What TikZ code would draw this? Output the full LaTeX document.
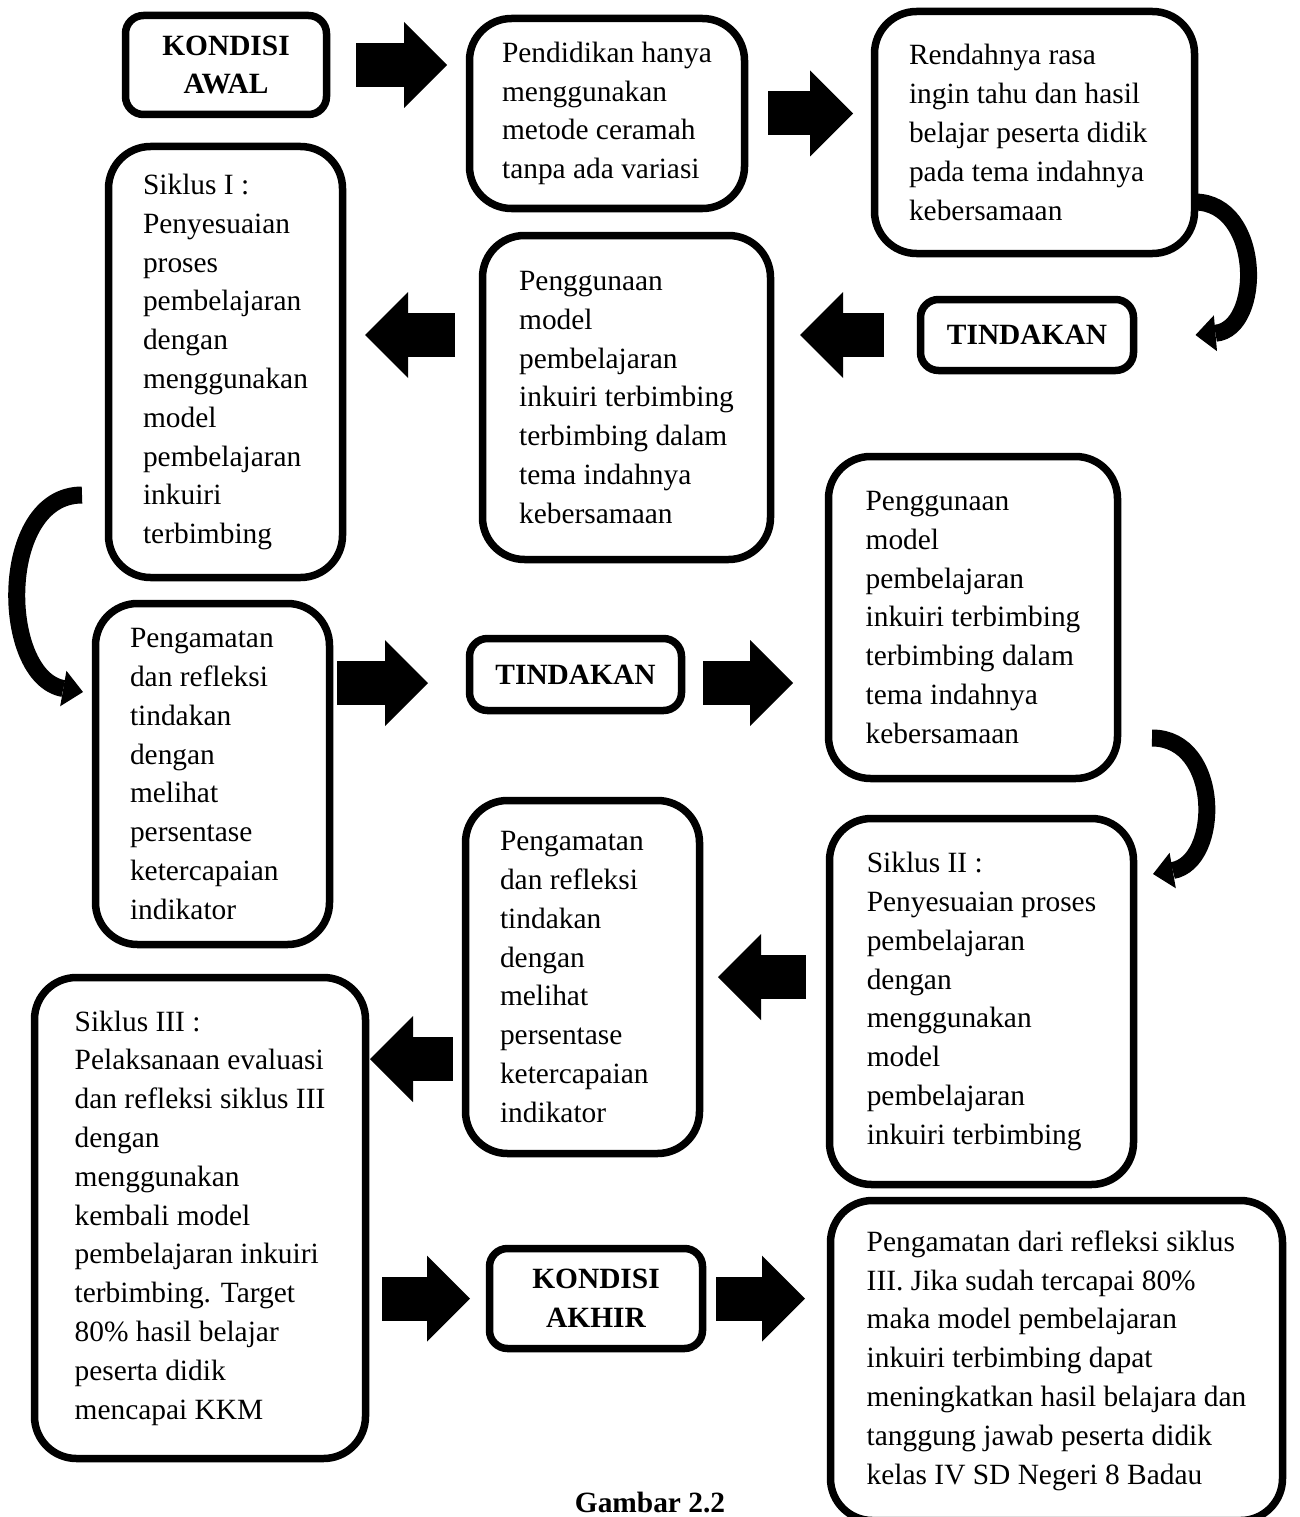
\documentclass[tikz,border=0pt]{standalone}
\usepackage{fontspec}
\setmainfont{Liberation Serif}
\usetikzlibrary{arrows.meta, positioning, calc}

\begin{document}
\begin{tikzpicture}[
  x=1pt, y=1pt,
  kotak/.style={rectangle, draw, line width=7.5pt, rounded corners=42pt,
                align=flush left, outer sep=0pt,
                font=\fontsize{29.4}{38.8}\selectfont},
  judul/.style={rectangle, draw, line width=7.5pt, rounded corners=18pt,
                align=center, outer sep=0pt,
                font=\fontsize{29.4}{38.8}\selectfont\bfseries},
  panah/.style={-{Triangle[width=86pt, length=43pt, line width=0pt]},
                line width=44pt},
  lengkung/.style={-{Triangle[width=36pt, length=20pt, line width=0pt]},
                line width=17pt}
]
\path[use as bounding box] (0,0) rectangle (1300,-1517);
\clip (0,0) rectangle (1300,-1517);

%% --- Baris atas ---
\node[judul, minimum width=201pt, minimum height=99pt] (kawal) at (226,-65)
    {KONDISI\\AWAL};
\node[kotak, minimum width=275pt, minimum height=190pt,
      right=143pt of kawal, yshift=-48.5pt] (didik)
    {Pendidikan hanya\\menggunakan\\metode ceramah\\tanpa ada variasi};
\node[kotak, text width=251pt, minimum width=320pt, minimum height=242pt,
      right=130pt of didik, yshift=-19pt] (rendah)
    {Rendahnya rasa\\ingin tahu dan hasil\\belajar peserta didik\\pada tema indahnya\\kebersamaan};

%% --- Siklus I ---
\node[judul, minimum width=213pt, minimum height=71pt,
      below=46pt of rendah, xshift=-7.5pt] (tindak1) {TINDAKAN};
\node[kotak, minimum width=288pt, minimum height=324pt,
      left=150pt of tindak1, yshift=-62.5pt] (guna1)
    {Penggunaan\\model\\pembelajaran\\inkuiri terbimbing\\terbimbing dalam\\tema indahnya\\kebersamaan};
\node[kotak, minimum width=234pt, minimum height=431pt,
      left=140pt of guna1, yshift=35.5pt] (siklus1)
    {Siklus I :\\Penyesuaian\\proses\\pembelajaran\\dengan\\menggunakan\\model\\pembelajaran\\inkuiri\\terbimbing};
\node[kotak, text width=165pt, minimum width=234pt, minimum height=341pt,
      below=26pt of siklus1, xshift=-13pt] (amat1)
    {Pengamatan\\dan refleksi\\tindakan\\dengan\\melihat\\persentase\\ketercapaian\\indikator};

%% --- Siklus II ---
\node[judul, minimum width=212pt, minimum height=72pt,
      right=140pt of amat1, yshift=99.5pt] (tindak2) {TINDAKAN};
\node[kotak, minimum width=289pt, minimum height=322pt,
      right=147pt of tindak2, yshift=57pt] (guna2)
    {Penggunaan\\model\\pembelajaran\\inkuiri terbimbing\\terbimbing dalam\\tema indahnya\\kebersamaan};
\node[kotak, minimum width=304pt, minimum height=366pt,
      below=40pt of guna2, xshift=8.5pt] (siklus2)
    {Siklus II :\\Penyesuaian proses\\pembelajaran\\dengan\\menggunakan\\model\\pembelajaran\\inkuiri terbimbing};
\node[kotak, text width=165pt, minimum width=234pt, minimum height=353pt,
      left=130pt of siklus2, yshift=24.5pt] (amat2)
    {Pengamatan\\dan refleksi\\tindakan\\dengan\\melihat\\persentase\\ketercapaian\\indikator};

%% --- Siklus III dan kondisi akhir ---
\node[kotak, minimum width=331pt, minimum height=481pt,
      left=100pt of amat2, yshift=-241pt] (siklus3)
    {Siklus III :\\Pelaksanaan evaluasi\\dan refleksi siklus III\\dengan\\menggunakan\\kembali model\\pembelajaran inkuiri\\terbimbing. Target\\80\% hasil belajar\\peserta didik\\mencapai KKM};
\node[judul, minimum width=213pt, minimum height=100pt,
      right=124pt of siklus3, yshift=-80.5pt] (akhir) {KONDISI\\AKHIR};
\node[kotak, minimum width=452pt, minimum height=320pt,
      right=128pt of akhir, yshift=-62pt] (hasil)
    {Pengamatan dari refleksi siklus\\III. Jika sudah tercapai 80\%\\maka model pembelajaran\\inkuiri terbimbing dapat\\meningkatkan hasil belajara dan\\tanggung jawab peserta didik\\kelas IV SD Negeri 8 Badau};

\node[font=\fontsize{29.4}{38.8}\selectfont\bfseries,
      below=140pt of akhir, xshift=54pt] (gambar) {Gambar 2.2};

%% --- Panah ---
\draw[panah, shorten <=29.5pt, shorten >=22.5pt] (kawal.east) -- (kawal.east -| didik.west);
\draw[panah, shorten <=23.5pt, shorten >=21.5pt] (didik.east) -- (didik.east -| rendah.west);
\draw[lengkung] ([yshift=-69.5pt]rendah.east) to[out=0, in=5, looseness=1.3]
    ([xshift=62pt]tindak1.east);
\draw[panah, shorten <=36.5pt, shorten >=29.5pt] (tindak1.west) -- (tindak1.west -| guna1.east);
\draw[panah, shorten <=27.5pt, shorten >=22.5pt] (guna1.west |- tindak1.west)
    -- (siklus1.east |- tindak1.west);
\draw[lengkung] ([xshift=-26.5pt, yshift=-133pt]siklus1.west) to[out=180, in=170, looseness=1.1]
    ([xshift=-12.5pt, yshift=82pt]amat1.west);
\draw[panah, shorten <=7.5pt, shorten >=41.5pt] ($(amat1.east |- tindak2.west)+(0,-8.5)$)
    -- ($(tindak2.west)+(0,-8.5)$);
\draw[panah, shorten <=21.5pt, shorten >=35.5pt] ($(tindak2.east)+(0,-8.5)$)
    -- ($(tindak2.east -| guna2.west)+(0,-8.5)$);
\draw[lengkung] ([xshift=34.5pt, yshift=-120.5pt]guna2.east) to[out=0, in=10, looseness=1.3]
    ([xshift=19.5pt, yshift=127.5pt]siklus2.east);
\draw[panah, shorten <=23.5pt, shorten >=18.5pt] (siklus2.west |- amat2.east) -- (amat2.east);
\draw[panah, shorten <=12.5pt, shorten >=4.5pt] ($(amat2.west)+(0,-82)$)
    -- ($(amat2.west -| siklus3.east)+(0,-82)$);
\draw[panah, shorten <=16.5pt, shorten >=19.5pt] (siklus3.east |- akhir.west) -- (akhir.west);
\draw[panah, shorten <=13.5pt, shorten >=25.5pt] (akhir.east) -- (akhir.east -| hasil.west);

\end{tikzpicture}
\end{document}
